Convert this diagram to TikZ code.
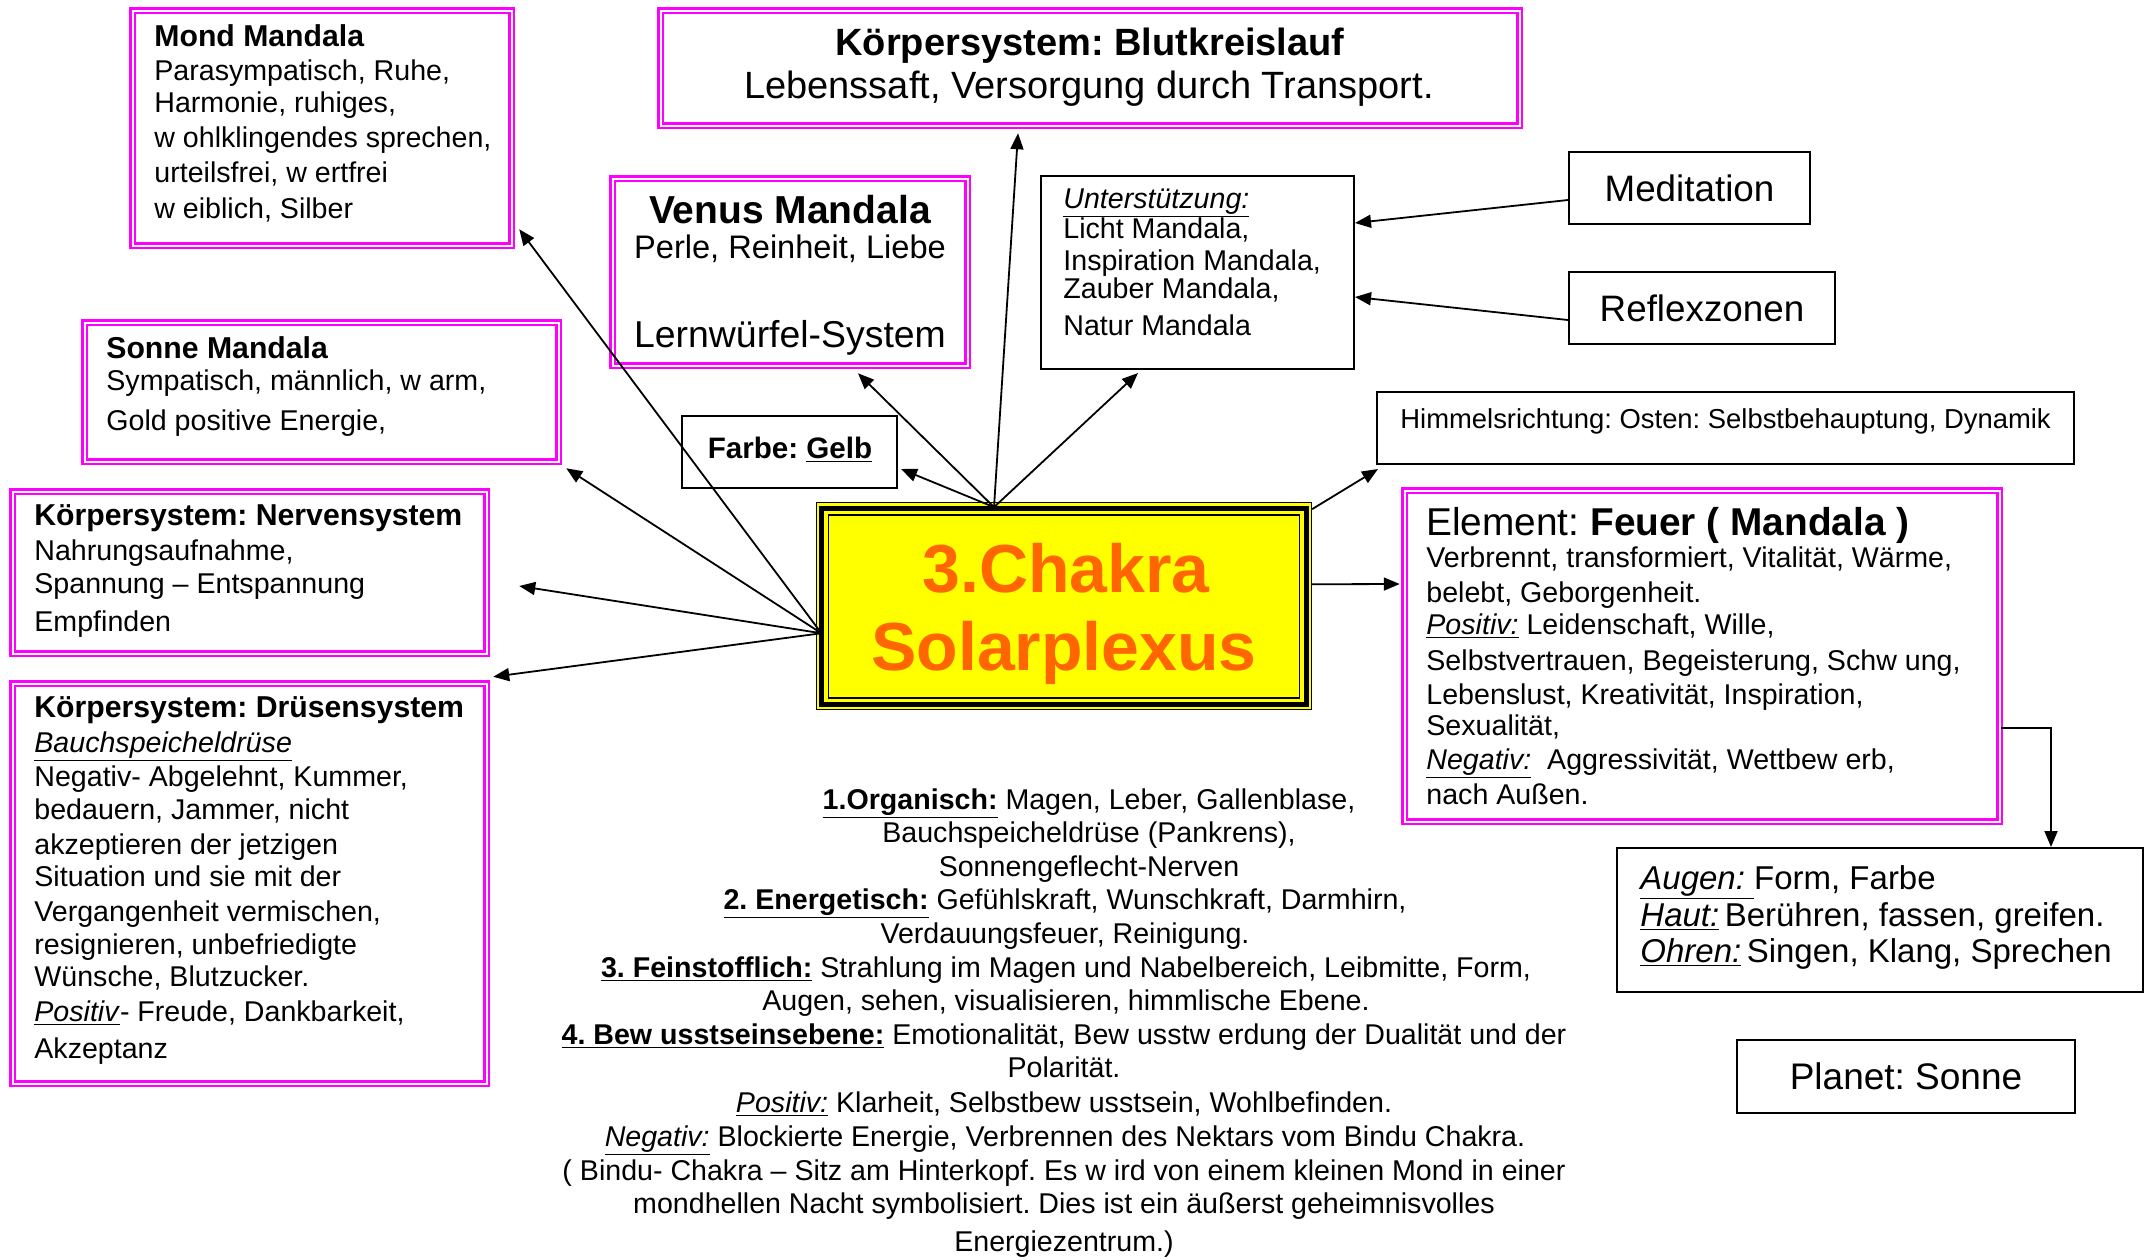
\documentclass[tikz,border=0pt]{standalone}
\usepackage{fontspec}
\setmainfont{Liberation Sans}
\usetikzlibrary{arrows.meta}
\definecolor{mag}{HTML}{FF00FF}
\definecolor{chorange}{HTML}{FF6600}
\definecolor{chyellow}{HTML}{FFFF00}
\newcommand\bodyf{\fontsize{14.3}{17}\selectfont}
\newcommand\titf{\fontsize{15.1}{18}\selectfont\bfseries}
\newcommand\myul[1]{\underline{#1}}
\frenchspacing
\begin{document}
\begin{tikzpicture}[x=0.5pt,y=-0.5pt,
  magbox/.style={draw=mag,line width=1.25pt,double=white,double distance=1pt,inner sep=0},
  blkbox/.style={draw=black,line width=1pt,inner sep=0},
  tl/.style={inner sep=0,anchor=base west,font=\bodyf},
  tc/.style={inner sep=0,anchor=base,font=\bodyf},
  arr/.style={-{Triangle[length=8pt,width=6.5pt]},line width=0.9pt}]
\fill[white] (0,0) rectangle (2145,1259);
\useasboundingbox (0,0) rectangle (2145,1259);

% ---------- magenta boxes ----------
\node[magbox,minimum width=189.5pt,minimum height=117.5pt] (mond) at (322,128) {};
\node[magbox,minimum width=237pt,minimum height=69.5pt] (sonne) at (321.5,392) {};
\node[magbox,minimum width=429.5pt,minimum height=57.5pt] (blut) at (1090,68) {};
\node[magbox,minimum width=177.5pt,minimum height=93.5pt] (venus) at (790,272) {};
\node[magbox,minimum width=237pt,minimum height=81pt] (nerven) at (249.5,572.5) {};
\node[magbox,minimum width=237pt,minimum height=200pt] (druesen) at (249.5,883.5) {};
\node[magbox,minimum width=297.5pt,minimum height=165.5pt] (feuer) at (1702,656) {};

% ---------- black boxes ----------
\node[blkbox,minimum width=156.5pt,minimum height=96.5pt] (unter) at (1197.5,272.5) {};
\node[blkbox,minimum width=120.5pt,minimum height=36pt,font=\fontsize{18.4}{22}\selectfont] (medit) at (1689.5,188) {Meditation};
\node[blkbox,minimum width=133pt,minimum height=36pt,font=\fontsize{18.4}{22}\selectfont] (reflex) at (1702,308) {Reflexzonen};
\node[blkbox,minimum width=348.5pt,minimum height=36pt] (himmel) at (1725.5,428) {};
\node[blkbox,minimum width=107.5pt,minimum height=36pt] (farbe) at (789.5,452) {};
\node[blkbox,minimum width=263pt,minimum height=72pt] (sense) at (1880,920) {};
\node[blkbox,minimum width=169pt,minimum height=36.5pt,font=\fontsize{18.5}{22}\selectfont] (planet) at (1906,1076.5) {Planet: Sonne};

% ---------- central box ----------
\node[fill=chyellow,draw=black,line width=0.6pt,minimum width=247.5pt,minimum height=103.5pt,inner sep=0] (chakra) at (1064,606.25) {};
\draw[line width=2.5pt] ([shift={(6,6)}]chakra.north west) rectangle ([shift={(-6,-6)}]chakra.south east);
\draw[line width=0.85pt] ([shift={(12.5,12.5)}]chakra.north west) rectangle ([shift={(-12.5,-12.5)}]chakra.south east);
\node[inner sep=0,anchor=base,text=chorange,font=\fontsize{34}{40}\selectfont\bfseries] (ch1) at (1066,592) {3.Chakra};
\node[inner sep=0,anchor=base,text=chorange,font=\fontsize{34}{40}\selectfont\bfseries] (ch2) at (1064,670) {Solarplexus};

% ---------- Mond ----------
\node[tl,font=\titf] (mond1) at (154,46) {Mond Mandala};
\node[tl] (mond2) at (154,80) {Parasympatisch, Ruhe,};
\node[tl] (mond3) at (154,112) {Harmonie, ruhiges,};
\node[tl] (mond4) at (154,147) {w ohlklingendes sprechen,};
\node[tl] (mond5) at (154,182) {urteilsfrei, w ertfrei};
\node[tl] (mond6) at (154,218) {w eiblich, Silber};

% ---------- Sonne ----------
\node[tl,font=\titf] (sonne1) at (106,358) {Sonne Mandala};
\node[tl] (sonne2) at (106,390) {Sympatisch, männlich, w arm,};
\node[tl] (sonne3) at (106,430) {Gold positive Energie,};

% ---------- Blut ----------
\node[tc,font=\fontsize{19}{23}\selectfont\bfseries] (blut1) at (1090,55) {Körpersystem: Blutkreislauf};
\node[tc,font=\fontsize{19}{23}\selectfont] (blut2) at (1089,98) {Lebenssaft, Versorgung durch Transport.};

% ---------- Venus ----------
\node[tc,font=\fontsize{19.5}{23}\selectfont\bfseries] (venus1) at (790,223) {Venus Mandala};
\node[tc,font=\fontsize{16.3}{20}\selectfont] (venus2) at (790,258) {Perle, Reinheit, Liebe};
\node[tc,font=\fontsize{18.7}{22}\selectfont] (venus3) at (790,347) {Lernwürfel-System};

% ---------- Farbe ----------
\node[tc,font=\fontsize{14.8}{18}\selectfont\bfseries] (farbe1) at (790,458) {Farbe: \myul{Gelb}};

% ---------- Unterstuetzung ----------
\node[tl] (unter1) at (1063,208) {\myul{\textit{Unterstützung:}}};
\node[tl] (unter2) at (1063,238) {Licht Mandala,};
\node[tl] (unter3) at (1063,270) {Inspiration Mandala,};
\node[tl] (unter4) at (1063,298) {Zauber Mandala,};
\node[tl] (unter5) at (1063,335) {Natur Mandala};

% ---------- Himmelsrichtung ----------
\node[tl,font=\fontsize{13.7}{16}\selectfont] (himmel1) at (1400,428) {Himmelsrichtung: Osten: Selbstbehauptung, Dynamik};

% ---------- Feuer ----------
\node[tl,font=\fontsize{19.4}{23}\selectfont] (feuer1) at (1426,535) {Element: \textbf{Feuer ( Mandala )}};
\node[tl] (feuer2) at (1426,567) {Verbrennt, transformiert, Vitalität, Wärme,};
\node[tl] (feuer3) at (1426,602) {belebt, Geborgenheit.};
\node[tl] (feuer4) at (1426,634) {\myul{\textit{Positiv:}} Leidenschaft, Wille,};
\node[tl] (feuer5) at (1426,670) {Selbstvertrauen, Begeisterung, Schw ung,};
\node[tl] (feuer6) at (1426,704) {Lebenslust, Kreativität, Inspiration,};
\node[tl] (feuer7) at (1426,735) {Sexualität,};
\node[tl] (feuer8) at (1426,769) {\myul{\textit{Negativ:}}\ \ Aggressivität, Wettbew erb,};
\node[tl] (feuer9) at (1426,804) {nach Außen.};

% ---------- Sinne ----------
\node[tl,font=\fontsize{16.5}{20}\selectfont] (sense1) at (1640,889) {\myul{\textit{Augen:\ }}Form, Farbe};
\node[tl,font=\fontsize{16.5}{20}\selectfont] (sense2) at (1640,926) {\myul{\textit{Haut:}}\,Berühren, fassen, greifen.};
\node[tl,font=\fontsize{16.5}{20}\selectfont] (sense3) at (1640,962) {\myul{\textit{Ohren:}}\,Singen, Klang, Sprechen};

% ---------- Nerven ----------
\node[tl,font=\titf] (nerven1) at (34,525) {Körpersystem: Nervensystem};
\node[tl] (nerven2) at (34,560) {Nahrungsaufnahme,};
\node[tl] (nerven3) at (34,593) {Spannung – Entspannung};
\node[tl] (nerven4) at (34,631) {Empfinden};

% ---------- Druesen ----------
\node[tl,font=\titf] (dr1) at (34,717) {Körpersystem: Drüsensystem};
\node[tl] (dr2) at (34,752) {\myul{\textit{Bauchspeicheldrüse}}};
\node[tl] (dr3) at (34,786) {Negativ- Abgelehnt, Kummer,};
\node[tl] (dr4) at (34,819) {bedauern, Jammer, nicht};
\node[tl] (dr5) at (34,854) {akzeptieren der jetzigen};
\node[tl] (dr6) at (34,886) {Situation und sie mit der};
\node[tl] (dr7) at (34,921) {Vergangenheit vermischen,};
\node[tl] (dr8) at (34,954) {resignieren, unbefriedigte};
\node[tl] (dr9) at (34,986) {Wünsche, Blutzucker.};
\node[tl] (dr10) at (34,1021) {\myul{\textit{Positiv}}- Freude, Dankbarkeit,};
\node[tl] (dr11) at (34,1058) {Akzeptanz};

% ---------- bottom text ----------
\node[tc] (b1) at (1089,809) {\myul{\textbf{1.Organisch:}} Magen, Leber, Gallenblase,};
\node[tc] (b2) at (1089,842) {Bauchspeicheldrüse (Pankrens),};
\node[tc] (b3) at (1089,876) {Sonnengeflecht-Nerven};
\node[tc] (b4) at (1065,909) {\myul{\textbf{2. Energetisch:}} Gefühlskraft, Wunschkraft, Darmhirn,};
\node[tc] (b5) at (1065,943) {Verdauungsfeuer, Reinigung.};
\node[tc] (b6) at (1066,977) {\myul{\textbf{3. Feinstofflich:}} Strahlung im Magen und Nabelbereich, Leibmitte, Form,};
\node[tc] (b7) at (1066,1010) {Augen, sehen, visualisieren, himmlische Ebene.};
\node[tc] (b8) at (1064,1044) {\myul{\textbf{4. Bew usstseinsebene:}} Emotionalität, Bew usstw erdung der Dualität und der};
\node[tc] (b9) at (1064,1077) {Polarität.};
\node[tc] (b10) at (1064,1112) {\myul{\textit{Positiv:}} Klarheit, Selbstbew usstsein, Wohlbefinden.};
\node[tc] (b11) at (1065,1146) {\myul{\textit{Negativ:}} Blockierte Energie, Verbrennen des Nektars vom Bindu Chakra.};
\node[tc] (b12) at (1064,1180) {( Bindu- Chakra – Sitz am Hinterkopf. Es w ird von einem kleinen Mond in einer};
\node[tc] (b13) at (1064,1213) {mondhellen Nacht symbolisiert. Dies ist ein äußerst geheimnisvolles};
\node[tc] (b14) at (1064,1251) {Energiezentrum.)};

% ---------- connectors ----------
\coordinate (hubT) at ([shift={(-70,5)}]chakra.north);
\coordinate (hubL) at ([shift={(5.5,27)}]chakra.west);
\draw[arr] (hubT) -- ([shift={(3,-20)}]farbe.south east);
\draw[arr] (hubT) -- ([shift={(68,6.5)}]venus.south);
\draw[arr] (hubT) -- ([shift={(-72,6.5)}]blut.south);
\draw[arr] (hubT) -- ([shift={(-59.5,3)}]unter.south);
\draw[arr] (hubL) -- ([shift={(6.5,-17.5)}]mond.south east);
\draw[arr] (hubL) -- ([shift={(6.5,5.5)}]sonne.south east);
\draw[arr] (hubL) -- ([shift={(31.5,13.5)}]nerven.east);
\draw[arr] (hubL) -- ([shift={(5.5,-5.5)}]druesen.north east);
\draw[arr] ([shift={(0,-22)}]chakra.east) -- ([shift={(-3.5,-72)}]feuer.west);
\draw[arr] ([shift={(0,7)}]chakra.north east) -- ([shift={(2,4)}]himmel.south west);
\draw[arr] ([shift={(0,72)}]feuer.east) -| ([shift={(171,0)}]sense.north);
\draw[arr] ([shift={(0,12)}]medit.west) -- ([shift={(0,-49.5)}]unter.east);
\draw[arr] ([shift={(0,12)}]reflex.west) -- ([shift={(0,24.5)}]unter.east);
\end{tikzpicture}
\end{document}
